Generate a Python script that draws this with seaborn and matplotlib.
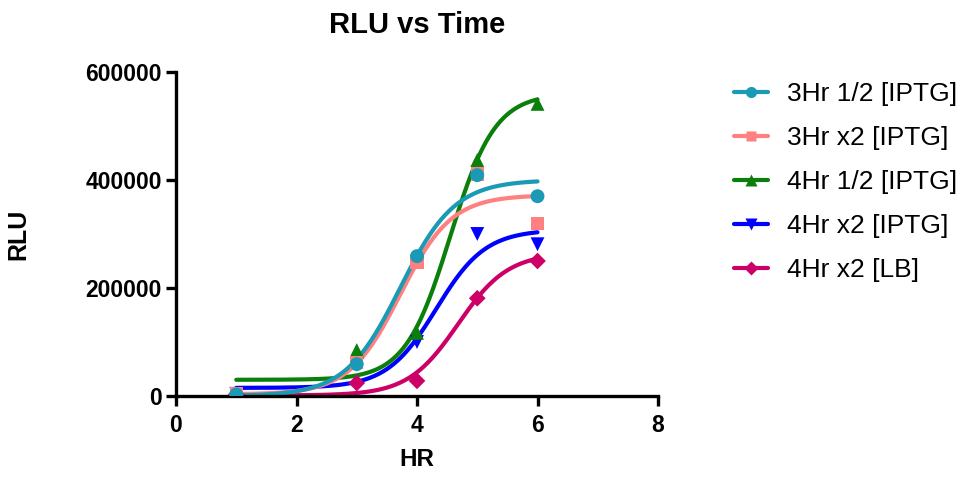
import numpy as np
import pandas as pd
import matplotlib
matplotlib.use("Agg")
import matplotlib.pyplot as plt
import seaborn as sns
from matplotlib.lines import Line2D

# ---- data ----
hours = [1, 3, 4, 5, 6]
series_names = ["3Hr 1/2 [IPTG]", "3Hr x2 [IPTG]", "4Hr 1/2 [IPTG]", "4Hr x2 [IPTG]", "4Hr x2 [LB]"]
rlu_3hr_half = [3000, 59000, 259000, 409000, 370000]
rlu_3hr_x2 = [5000, 62000, 248000, 411000, 320000]
rlu_4hr_half = [4000, 85000, 117000, 437000, 541000]
rlu_4hr_x2 = [4000, 58000, 100000, 300000, 281000]
rlu_4hr_lb = [3000, 24000, 28000, 181000, 250000]

# sigmoidal fit parameters (bottom, top, midpoint, slope) estimated from the fitted curves
fit_bottom = [0, 3000, 30000, 15000, 1000]
fit_top = [400000, 372000, 560000, 308000, 265000]
fit_mid = [3.72, 3.72, 4.55, 4.32, 4.68]
fit_slope = [2.2, 2.35, 2.68, 2.44, 2.41]

colors = ["#1a9ab5", "#ff8080", "#0a800a", "#0000ff", "#cc0066"]
markers = ["o", "s", "^", "v", "D"]
msizes = [10, 9.5, 10, 10, 8.5]

all_vals = [rlu_3hr_half, rlu_3hr_x2, rlu_4hr_half, rlu_4hr_x2, rlu_4hr_lb]
df = pd.DataFrame({
    "HR": hours * len(series_names),
    "RLU": sum(all_vals, []),
    "series": sum([[n] * len(hours) for n in series_names], []),
})

sns.set_style("ticks")
plt.rcParams["font.family"] = ["Liberation Sans", "DejaVu Sans"]
plt.rcParams["text.color"] = "black"
plt.rcParams["axes.labelcolor"] = "black"
plt.rcParams["xtick.color"] = "black"
plt.rcParams["ytick.color"] = "black"

fig = plt.figure(figsize=(9.64, 4.78), dpi=100)
ax = fig.add_axes([176 / 964, 1 - 396 / 478, (658 - 176) / 964, (396 - 72) / 478])

xs = np.linspace(1, 6, 200)
curve_rows = []
for i, name in enumerate(series_names):
    ys = fit_bottom[i] + (fit_top[i] - fit_bottom[i]) / (1 + np.exp(-fit_slope[i] * (xs - fit_mid[i])))
    curve_rows.append(pd.DataFrame({"HR": xs, "RLU": ys, "series": name}))
curves = pd.concat(curve_rows[::-1])

palette = dict(zip(series_names, colors))
sns.lineplot(data=curves, x="HR", y="RLU", hue="series", palette=palette, lw=3,
             hue_order=series_names[::-1], legend=False, ax=ax, sort=False, zorder=2)
for i in reversed(range(len(series_names))):
    sub = df[df.series == series_names[i]]
    sns.scatterplot(data=sub, x="HR", y="RLU", color=colors[i], marker=markers[i],
                    s=msizes[i] ** 2, edgecolor="none", ax=ax, zorder=3, legend=False)

ax.set_xlim(0, 8)
ax.set_ylim(0, 600000)
ax.set_xticks([0, 2, 4, 6, 8])
ax.set_yticks([0, 200000, 400000, 600000])
ax.set_yticklabels(["0", "200000", "400000", "600000"])
for s in ["top", "right"]:
    ax.spines[s].set_visible(False)
for s in ["left", "bottom"]:
    ax.spines[s].set_linewidth(2.4)
    ax.spines[s].set_color("black")
ax.tick_params(axis="both", length=7, width=2.4, color="black", labelsize=16.5, pad=3)
ax.tick_params(axis="x", pad=6)
for lab in ax.get_xticklabels() + ax.get_yticklabels():
    lab.set_fontweight("bold")
ax.set_xlabel("HR", fontsize=17.5, fontweight="bold", labelpad=8)
ax.set_ylabel("RLU", fontsize=18, fontweight="bold", labelpad=40)
ax.set_title("RLU vs Time", fontsize=21, fontweight="bold", pad=28)

handles = [Line2D([0], [0], color=colors[i], lw=3, marker=markers[i], markersize=msizes[i] * 0.8,
                  markeredgecolor="none") for i in range(len(series_names))]
fig.legend(handles, series_names, loc="upper left", bbox_to_anchor=(734 / 964, 1 - 82 / 478),
           frameon=False, fontsize=19, handlelength=1.3, labelspacing=0.76, handletextpad=0.7,
           borderaxespad=0, borderpad=0)

fig.savefig("out.png", dpi=100)
